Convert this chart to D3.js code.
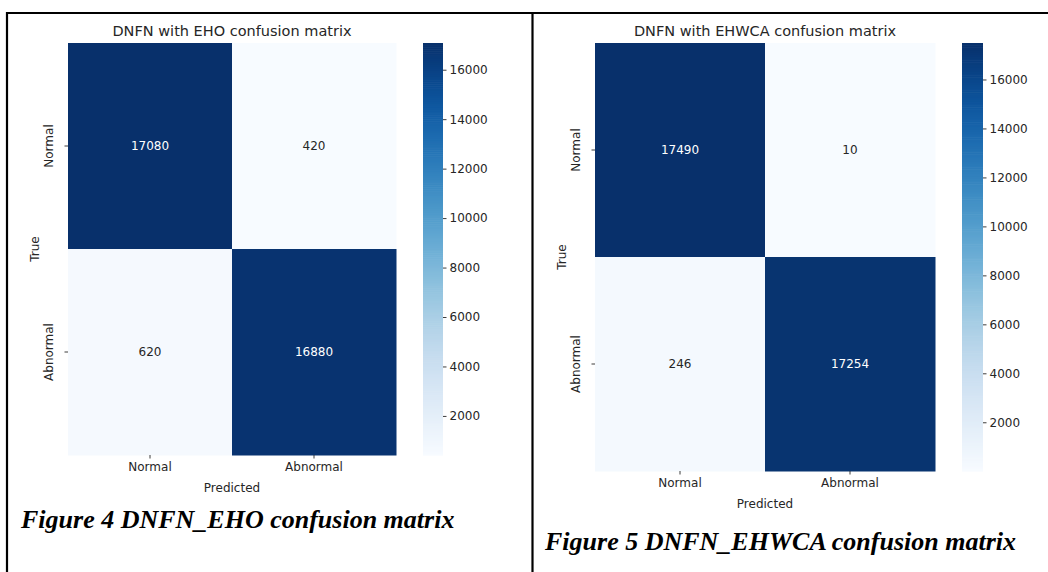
<!DOCTYPE html>
<html>
<head>
<meta charset="utf-8">
<script src="https://cdn.jsdelivr.net/npm/d3@7"></script>
<style>
  html, body { margin: 0; padding: 0; background: #fff; }
  svg { display: block; }
  .lbl { font-family: "DejaVu Sans", sans-serif; fill: #262626; }
  .cap { font-family: "Liberation Serif", "Times New Roman", serif; font-weight: bold; font-style: italic; fill: #000; }
</style>
</head>
<body>
<svg id="chart" width="1048" height="572"></svg>
<script>
// Class labels shared by both matrices
const classLabels = ["Normal", "Abnormal"];

// DNFN with EHO: rows = true class, columns = predicted class
const ehoValues = [
  [17080, 420],
  [620, 16880]
];

// DNFN with EHWCA
const ehwcaValues = [
  [17490, 10],
  [246, 17254]
];

const colorbarTicks = [2000, 4000, 6000, 8000, 10000, 12000, 14000, 16000];

const titles = ["DNFN with EHO confusion matrix", "DNFN with EHWCA confusion matrix"];
const captions = ["Figure 4 DNFN_EHO confusion matrix", "Figure 5 DNFN_EHWCA confusion matrix"];

const svg = d3.select("#chart");

// Table frame around the two figures
const frame = svg.append("g").attr("stroke", "#000").attr("stroke-width", 2.2);
frame.append("line").attr("x1", 7).attr("x2", 1048).attr("y1", 13).attr("y2", 13);
frame.append("line").attr("x1", 7).attr("x2", 7).attr("y1", 12).attr("y2", 572);
frame.append("line").attr("x1", 532.5).attr("x2", 532.5).attr("y1", 12).attr("y2", 572);

function drawMatrix(values, title, caption, box) {
  const g = svg.append("g");
  const flat = values.flat();
  const vmin = d3.min(flat), vmax = d3.max(flat);
  const color = d3.scaleSequential(d3.interpolateBlues).domain([vmin, vmax]);

  const x = d3.scaleBand().domain(classLabels).range([box.left, box.right]);
  const y = d3.scaleBand().domain(classLabels).range([box.top, box.bottom]);

  const cells = [];
  values.forEach((row, i) => row.forEach((v, j) => cells.push({ t: classLabels[i], p: classLabels[j], v })));

  g.selectAll("rect.cell").data(cells).join("rect")
    .attr("class", "cell")
    .attr("x", d => x(d.p)).attr("y", d => y(d.t))
    .attr("width", x.bandwidth() + 0.5).attr("height", y.bandwidth() + 0.5)
    .attr("fill", d => color(d.v));

  // Annotations: light text on dark cells
  g.selectAll("text.ann").data(cells).join("text")
    .attr("class", "lbl")
    .attr("x", d => x(d.p) + x.bandwidth() / 2)
    .attr("y", d => y(d.t) + y.bandwidth() / 2)
    .attr("text-anchor", "middle").attr("dominant-baseline", "central")
    .attr("font-size", 12)
    .style("fill", d => {
      const c = d3.rgb(color(d.v));
      const lum = 0.2126 * c.r / 255 + 0.7152 * c.g / 255 + 0.0722 * c.b / 255;
      return lum < 0.408 ? "#ffffff" : "#262626";
    })
    .text(d => d.v);

  // Bottom axis
  const xAxis = g.append("g").attr("transform", `translate(0,${box.bottom})`)
    .call(d3.axisBottom(x).tickSize(3.5).tickPadding(4));
  xAxis.select(".domain").remove();
  xAxis.selectAll(".tick line").attr("stroke", "#262626").attr("stroke-width", 0.9);
  xAxis.selectAll(".tick text").attr("font-size", 12).attr("fill", "#262626")
    .attr("font-family", "DejaVu Sans");

  // Left axis with rotated labels
  const yAxis = g.append("g").attr("transform", `translate(${box.left},0)`)
    .call(d3.axisLeft(y).tickSize(3.5).tickPadding(4));
  yAxis.select(".domain").remove();
  yAxis.selectAll(".tick line").attr("stroke", "#262626").attr("stroke-width", 0.9);
  yAxis.selectAll(".tick text")
    .attr("font-size", 12).attr("fill", "#262626").attr("font-family", "DejaVu Sans")
    .attr("x", null).attr("dy", null)
    .attr("text-anchor", "middle")
    .attr("transform", "translate(-15,0) rotate(-90)");

  // Axis titles
  g.append("text").attr("class", "lbl").attr("font-size", 12)
    .attr("x", (box.left + box.right) / 2).attr("y", box.bottom + 33)
    .attr("text-anchor", "middle").attr("dominant-baseline", "central")
    .text("Predicted");
  g.append("text").attr("class", "lbl").attr("font-size", 12)
    .attr("transform", `translate(${box.left - 33},${(box.top + box.bottom) / 2}) rotate(-90)`)
    .attr("text-anchor", "middle").attr("dominant-baseline", "central")
    .text("True");

  // Title
  g.append("text").attr("class", "lbl").attr("font-size", 14.5)
    .attr("x", (box.left + box.right) / 2).attr("y", box.top - 7)
    .attr("text-anchor", "middle")
    .text(title);

  // Colorbar
  const cbScale = d3.scaleLinear().domain([vmin, vmax]).range([box.bottom, box.top]);
  const steps = d3.range(0, 200);
  const stepH = (box.bottom - box.top) / steps.length;
  g.append("g").selectAll("rect").data(steps).join("rect")
    .attr("x", box.cbLeft).attr("width", box.cbWidth)
    .attr("y", i => box.bottom - (i + 1) * stepH).attr("height", stepH + 0.6)
    .attr("fill", i => color(vmin + (i + 0.5) / steps.length * (vmax - vmin)));
  const cbAxis = g.append("g").attr("transform", `translate(${box.cbLeft + box.cbWidth},0)`)
    .call(d3.axisRight(cbScale).tickValues(colorbarTicks).tickFormat(d3.format("d")).tickSize(3.5).tickPadding(3));
  cbAxis.select(".domain").remove();
  cbAxis.selectAll(".tick line").attr("stroke", "#262626").attr("stroke-width", 0.9);
  cbAxis.selectAll(".tick text").attr("font-size", 12).attr("fill", "#262626").attr("font-family", "DejaVu Sans");

  // Figure caption
  svg.append("text").attr("class", "cap").attr("font-size", box.capSize)
    .attr("x", box.capX).attr("y", box.capY)
    .text(caption);
}

drawMatrix(ehoValues, titles[0], captions[0],
  { left: 68, right: 396, top: 43, bottom: 455, cbLeft: 423, cbWidth: 20, capX: 21, capY: 528, capSize: 26 });
drawMatrix(ehwcaValues, titles[1], captions[1],
  { left: 595, right: 935, top: 43, bottom: 471, cbLeft: 962, cbWidth: 21, capX: 545, capY: 550, capSize: 26 });
</script>
</body>
</html>
